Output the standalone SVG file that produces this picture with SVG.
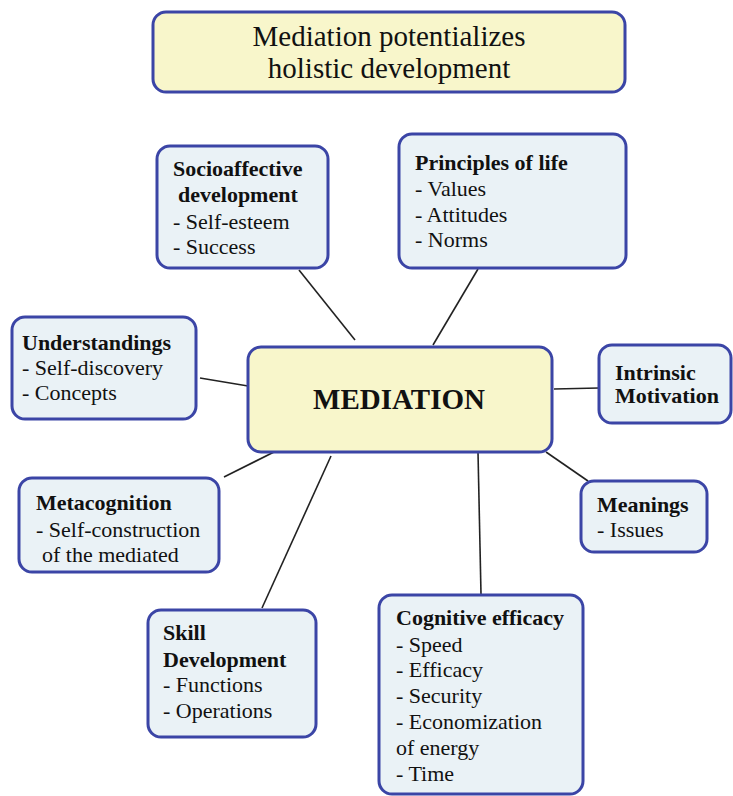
<svg xmlns="http://www.w3.org/2000/svg" width="733" height="796" viewBox="0 0 733 796">
<style>
.box{fill:#eaf2f6;stroke:#3b45a6;stroke-width:3}
.yb{fill:#f8f6cb;stroke:#3b45a6;stroke-width:3}
text{font-family:"Liberation Serif","Times New Roman",serif;fill:#111;font-size:22px}
.h{font-weight:bold}
.conn line{stroke:#222;stroke-width:1.6}
</style>
<rect width="733" height="796" fill="#ffffff"/>
<g id="connectors" class="conn">
<line x1="299" y1="270" x2="355" y2="340"/>
<line x1="478" y1="269" x2="433" y2="345"/>
<line x1="200" y1="378" x2="248" y2="386"/>
<line x1="554" y1="389" x2="599" y2="388"/>
<line x1="224" y1="477" x2="274" y2="452"/>
<line x1="331" y1="456" x2="262" y2="608"/>
<line x1="478" y1="452" x2="481" y2="594"/>
<line x1="546" y1="452" x2="588" y2="481"/>
</g>
<g id="title">
<rect class="yb" x="153" y="12" width="472" height="80" rx="13"/>
<text x="389" y="46" text-anchor="middle" style="font-size:29px">Mediation potentializes</text>
<text x="389" y="78" text-anchor="middle" style="font-size:29px">holistic development</text>
</g>
<g id="mediation">
<rect class="yb" x="248" y="347" width="304" height="105" rx="13"/>
<text x="399" y="409" text-anchor="middle" class="h" style="font-size:29px">MEDIATION</text>
</g>
<g id="socioaffective">
<rect class="box" x="157" y="146" width="171" height="122" rx="13"/>
<text x="173" y="176" class="h">Socioaffective</text>
<text x="178" y="202" class="h">development</text>
<text x="173" y="229">- Self-esteem</text>
<text x="173" y="254">- Success</text>
</g>
<g id="principles">
<rect class="box" x="399" y="134" width="227" height="134" rx="13"/>
<text x="415" y="170" class="h">Principles of life</text>
<text x="415" y="196">- Values</text>
<text x="415" y="222">- Attitudes</text>
<text x="415" y="247">- Norms</text>
</g>
<g id="understandings">
<rect class="box" x="12" y="317" width="184" height="102" rx="13"/>
<text x="22" y="350" class="h">Understandings</text>
<text x="22" y="375">- Self-discovery</text>
<text x="22" y="400">- Concepts</text>
</g>
<g id="intrinsic">
<rect class="box" x="599" y="345" width="132" height="78" rx="13"/>
<text x="615" y="380" class="h">Intrinsic</text>
<text x="615" y="403" class="h">Motivation</text>
</g>
<g id="metacognition">
<rect class="box" x="19" y="478" width="200" height="94" rx="13"/>
<text x="36" y="510" class="h">Metacognition</text>
<text x="36" y="537">- Self-construction</text>
<text x="42" y="562">of the mediated</text>
</g>
<g id="meanings">
<rect class="box" x="581" y="481" width="126" height="71" rx="13"/>
<text x="597" y="512" class="h">Meanings</text>
<text x="597" y="537">- Issues</text>
</g>
<g id="skill">
<rect class="box" x="148" y="610" width="168" height="127" rx="13"/>
<text x="163" y="640" class="h">Skill</text>
<text x="163" y="667" class="h">Development</text>
<text x="163" y="692">- Functions</text>
<text x="163" y="718">- Operations</text>
</g>
<g id="cognitive">
<rect class="box" x="379" y="595" width="204" height="199" rx="13"/>
<text x="396" y="625" class="h">Cognitive efficacy</text>
<text x="396" y="652">- Speed</text>
<text x="396" y="677">- Efficacy</text>
<text x="396" y="703">- Security</text>
<text x="396" y="729">- Economization</text>
<text x="396" y="755">of energy</text>
<text x="396" y="781">- Time</text>
</g>
</svg>
